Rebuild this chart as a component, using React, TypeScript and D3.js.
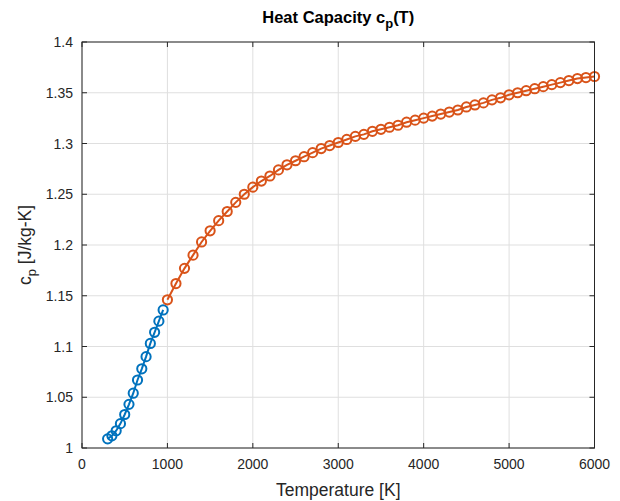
import React from "react";
import * as d3 from "d3";

const lowT = [300, 350, 400, 450, 500, 550, 600, 650, 700, 750, 800, 850, 900, 950];
const lowCp = [1.009, 1.012, 1.017, 1.024, 1.033, 1.043, 1.054, 1.067, 1.078, 1.090, 1.103, 1.114, 1.125, 1.136];

const highT = [
  1000, 1100, 1200, 1300, 1400, 1500, 1600, 1700, 1800, 1900,
  2000, 2100, 2200, 2300, 2400, 2500, 2600, 2700, 2800, 2900,
  3000, 3100, 3200, 3300, 3400, 3500, 3600, 3700, 3800, 3900,
  4000, 4100, 4200, 4300, 4400, 4500, 4600, 4700, 4800, 4900,
  5000, 5100, 5200, 5300, 5400, 5500, 5600, 5700, 5800, 5900, 6000,
];
const highCp = [
  1.146, 1.162, 1.177, 1.190, 1.203, 1.214, 1.224, 1.233, 1.242, 1.250,
  1.257, 1.263, 1.268, 1.274, 1.279, 1.283, 1.287, 1.291, 1.295, 1.298,
  1.301, 1.304, 1.307, 1.309, 1.312, 1.314, 1.316, 1.318, 1.321, 1.323,
  1.325, 1.327, 1.329, 1.331, 1.333, 1.336, 1.338, 1.340, 1.343, 1.345,
  1.348, 1.350, 1.352, 1.354, 1.356, 1.358, 1.360, 1.362, 1.364, 1.365, 1.366,
];

const xTicks = [0, 1000, 2000, 3000, 4000, 5000, 6000];
const yTicks = [1, 1.05, 1.1, 1.15, 1.2, 1.25, 1.3, 1.35, 1.4];
const yTickLabels = ["1", "1.05", "1.1", "1.15", "1.2", "1.25", "1.3", "1.35", "1.4"];

const W = 620, H = 501;
const L = 82, R = 594.5, T = 42, B = 448;
const FONT = "Liberation Sans, Arial, Helvetica, sans-serif";
const AX = "#262626";
const BLUE = "#0072BD";
const ORANGE = "#D95319";

export default function App() {
  const x = d3.scaleLinear().domain([0, 6000]).range([L, R]);
  const y = d3.scaleLinear().domain([1, 1.4]).range([B, T]);
  const line = d3.line<[number, number]>().x((d) => x(d[0])).y((d) => y(d[1]));
  const low: [number, number][] = lowT.map((t, i) => [t, lowCp[i]]);
  const high: [number, number][] = highT.map((t, i) => [t, highCp[i]]);
  const tl = 5;

  const series = (data: [number, number][], color: string) => (
    <g>
      <path d={line(data) || ""} fill="none" stroke={color} strokeWidth={2} />
      {data.map((d, i) => (
        <circle key={i} cx={x(d[0])} cy={y(d[1])} r={4.6} fill="none" stroke={color} strokeWidth={2} />
      ))}
    </g>
  );

  return (
    <svg width={W} height={H} style={{ position: "absolute", left: 0, top: 0, background: "#fff" }} fontFamily={FONT}>
      <rect x={0} y={0} width={W} height={H} fill="#fff" />
      {xTicks.map((t) => (
        <line key={"gx" + t} x1={x(t)} x2={x(t)} y1={T} y2={B} stroke="#dfdfdf" strokeWidth={1} />
      ))}
      {yTicks.map((t) => (
        <line key={"gy" + t} x1={L} x2={R} y1={y(t)} y2={y(t)} stroke="#dfdfdf" strokeWidth={1} />
      ))}
      {series(low, BLUE)}
      {series(high, ORANGE)}
      <rect x={L} y={T} width={R - L} height={B - T} fill="none" stroke={AX} strokeWidth={1} />
      {xTicks.map((t) => (
        <g key={"tx" + t}>
          <line x1={x(t)} x2={x(t)} y1={B} y2={B - tl} stroke={AX} />
          <line x1={x(t)} x2={x(t)} y1={T} y2={T + tl} stroke={AX} />
          <text x={x(t)} y={B + 21} textAnchor="middle" fontSize={14} fill={AX}>{t}</text>
        </g>
      ))}
      {yTicks.map((t, i) => (
        <g key={"ty" + t}>
          <line x1={L} x2={L + tl} y1={y(t)} y2={y(t)} stroke={AX} />
          <line x1={R} x2={R - tl} y1={y(t)} y2={y(t)} stroke={AX} />
          <text x={L - 9} y={y(t) + 5} textAnchor="end" fontSize={14} fill={AX}>{yTickLabels[i]}</text>
        </g>
      ))}
      <text x={(L + R) / 2} y={23} textAnchor="middle" fontSize={16.5} fontWeight="bold" fill="#000">
        Heat Capacity c<tspan fontSize={13} dy={5}>p</tspan><tspan dy={-5}>(T)</tspan>
      </text>
      <text x={(L + R) / 2} y={496} textAnchor="middle" fontSize={17.5} fill={AX}>Temperature [K]</text>
      <text transform={`translate(31, ${(T + B) / 2}) rotate(-90)`} textAnchor="middle" fontSize={17.5} fill={AX}>
        c<tspan fontSize={13} dy={5}>p</tspan><tspan dy={-5}> [J/kg-K]</tspan>
      </text>
    </svg>
  );
}
